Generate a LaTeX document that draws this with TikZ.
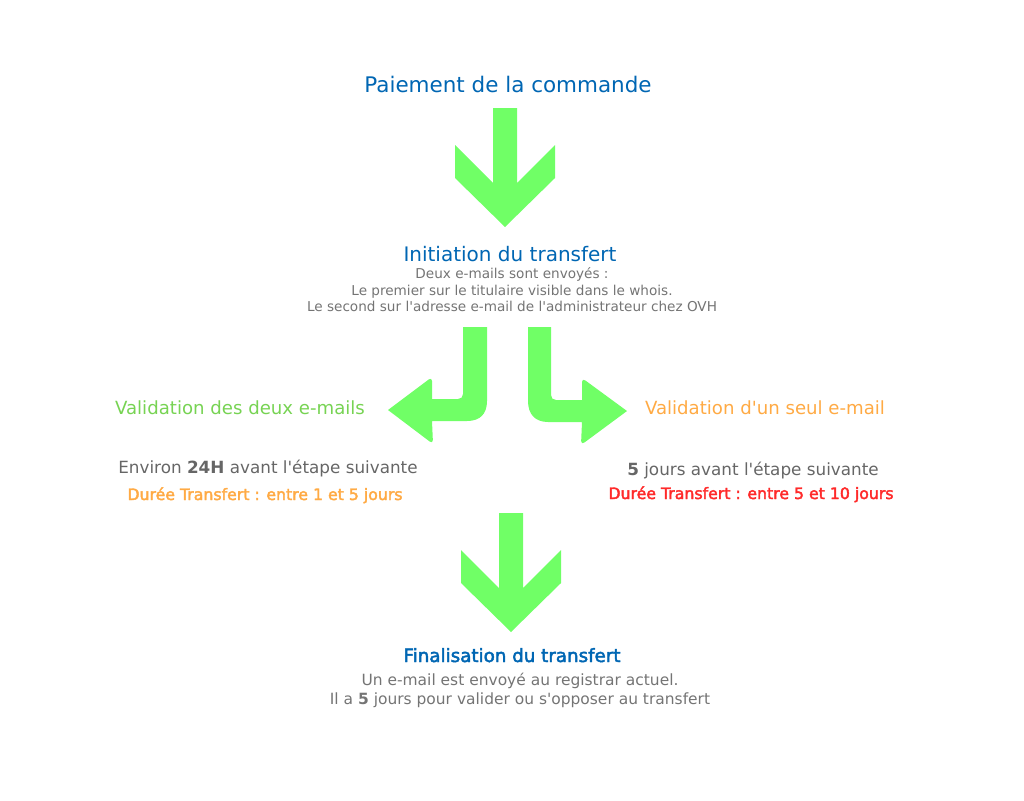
\documentclass[tikz,border=0pt]{standalone}
\usepackage{fontspec}
\setmainfont{DejaVu Sans}
\newfontfamily\heavyfont{DejaVu Sans}[FakeBold=2.5]
\definecolor{arrowgreen}{HTML}{70FF66}
\definecolor{titleblue}{HTML}{0066B3}
\definecolor{validgreen}{HTML}{77D353}
\definecolor{validorange}{HTML}{FFAA44}
\definecolor{delayred}{HTML}{FF2A2A}
\definecolor{infogray}{HTML}{666666}
\definecolor{notegray}{HTML}{747474}
\newcommand{\apos}{\textquotesingle}
\tikzset{
  bigtitle/.style={anchor=base,inner sep=0pt,text=titleblue,font=\fontsize{16.1}{19}\selectfont},
  steptitle/.style={anchor=base,inner sep=0pt,text=titleblue,font=\fontsize{15}{18}\selectfont},
  note/.style={anchor=base,inner sep=0pt,text=notegray,font=\fontsize{10.2}{12}\selectfont},
  branch/.style={anchor=base,inner sep=0pt,font=\fontsize{13.6}{16}\selectfont},
  delay/.style={anchor=base,inner sep=0pt,text=infogray,font=\fontsize{12.6}{15}\selectfont},
  closing/.style={anchor=base,inner sep=0pt,text=notegray,font=\fontsize{11.6}{14}\selectfont},
  duration/.style={anchor=base,inner sep=0pt,font=\heavyfont\fontsize{11.8}{14}\selectfont},
  arrowfill/.style={fill=arrowgreen}
}
\begin{document}
\begin{tikzpicture}[x=0.75pt,y=-0.75pt]
  \useasboundingbox (0,0) rectangle (1024,800);
  % straight arrows
  \foreach \dx/\dy in {0/0,6/405} {%
    \fill[arrowfill,shift={(\dx,\dy)}] (493,108) -- (517,108) -- (517,183) -- (555,145)
      -- (555,178) -- (505,227) -- (455,178) -- (455,145) -- (493,183) -- cycle;
  }
  % bent arrows
  \fill[arrowfill] (463,327) -- (487,327) -- (487,401)
    .. controls (487,414) and (480,421) .. (467,421) -- (432,421)
    [rounded corners=3pt] -- (433,444) [sharp corners] -- (388,410)
    [rounded corners=3pt] -- (432,377) [sharp corners] -- (432,399) -- (458,399)
    .. controls (461,399) and (463,397) .. (463,394) -- cycle;
  \fill[arrowfill] (551,327) -- (528,327) -- (528,401)
    .. controls (528,414) and (535,422) .. (548,422) -- (582,422)
    [rounded corners=3pt] -- (581,445) [sharp corners] -- (627,411)
    [rounded corners=3pt] -- (582,378) [sharp corners] -- (582,400) -- (556,400)
    .. controls (553,400) and (551,398) .. (551,395) -- cycle;
  % texts
  \node[bigtitle] (paiement) at (508,92) {Paiement de la commande};
  \node[steptitle] (initiation) at (510,261) {Initiation du transfert};
  \node[note] (deux) at (512,278) {Deux e-mails sont envoyés :};
  \node[note] (premier) at (512,295) {Le premier sur le titulaire visible dans le whois.};
  \node[note] (second) at (512,311) {Le second sur l\apos adresse e-mail de l\apos administrateur chez OVH};
  \node[branch,text=validgreen] (deuxmails) at (240,414) {Validation des deux e-mails};
  \node[branch,text=validorange] (unmail) at (765,414) {Validation d\apos un seul e-mail};
  \node[delay] (delaideux) at (268,473) {Environ \textbf{24H} avant l\apos étape suivante};
  \node[duration,text=validorange] (dureedeux) at (265,500) {Durée Transfert : entre 1 et 5 jours};
  \node[delay] (delaiun) at (753,475) {\textbf{5} jours avant l\apos étape suivante};
  \node[duration,text=delayred] (dureeun) at (751,499) {Durée Transfert : entre 5 et 10 jours};
  \node[steptitle,font=\heavyfont\fontsize{13.7}{16}\selectfont] (finalisation) at (512,662) {Finalisation du transfert};
  \node[closing] (registrar) at (520,685) {Un e-mail est envoyé au registrar actuel.};
  \node[closing] (opposer) at (520,704) {Il a \textbf{5} jours pour valider ou s\apos opposer au transfert};
\end{tikzpicture}
\end{document}
